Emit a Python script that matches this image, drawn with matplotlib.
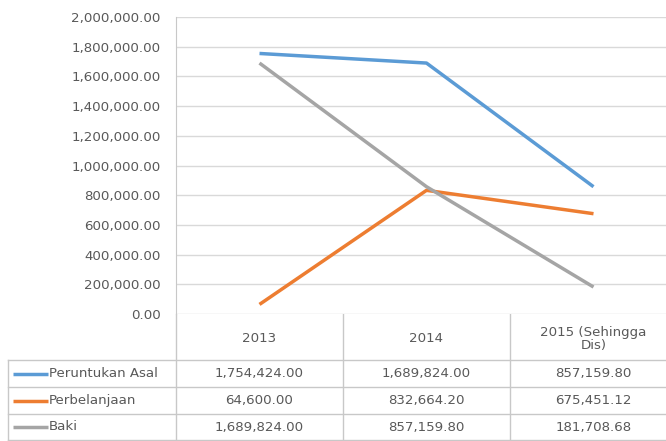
import matplotlib
matplotlib.use("Agg")
import matplotlib.pyplot as plt
from matplotlib.ticker import FuncFormatter, MultipleLocator

categories = ["2013", "2014", "2015 (Sehingga\nDis)"]
series_names = ["Peruntukan Asal", "Perbelanjaan", "Baki"]
peruntukan = [1754424.00, 1689824.00, 857159.80]
perbelanjaan = [64600.00, 832664.20, 675451.12]
baki = [1689824.00, 857159.80, 181708.68]
series_values = [peruntukan, perbelanjaan, baki]
colors = ["#5B9BD5", "#ED7D31", "#A5A5A5"]

plt.rcParams['font.family'] = ['DejaVu Sans']
W, H = 666, 441
FS = 9.6
TXT = "#595959"
GRID = "#d9d9d9"
BORDER = "#c8c8c8"

fig = plt.figure(figsize=(W / 100, H / 100), dpi=100)

# layout in pixels
ax_left, ax_right, ax_top, ax_bot = 176, 677, 17, 314
ax = fig.add_axes([ax_left / W, 1 - ax_bot / H, (ax_right - ax_left) / W, (ax_bot - ax_top) / H])
x = list(range(len(categories)))
for vals, c, name in zip(series_values, colors, series_names):
    ax.plot(x, vals, color=c, lw=2.5, solid_capstyle='butt', label=name, zorder=3)
ax.set_xlim(-0.5, len(categories) - 0.5)
ax.set_ylim(0, 2000000)
ax.yaxis.set_major_locator(MultipleLocator(200000))
ax.yaxis.set_major_formatter(FuncFormatter(lambda v, p: f"{v:,.2f}"))
ax.grid(axis='y', color=GRID, lw=1)
ax.set_axisbelow(True)
for s in ['top', 'right', 'bottom']:
    ax.spines[s].set_visible(False)
ax.spines['left'].set_color(BORDER)
ax.tick_params(axis='y', length=0, pad=11, labelsize=FS, labelcolor=TXT)
ax.tick_params(axis='x', bottom=False, labelbottom=False)

# table drawn in pixel coordinates
tab = fig.add_axes([0, 0, 1, 1], zorder=-1)
tab.set_xlim(0, W)
tab.set_ylim(H, 0)
tab.axis('off')
col_edges = [8, 176, 343, 510, 677]
header_top, header_bot = 314, 360
row_edges = [360, 387, 414, 440]

# vertical lines
tab.plot([col_edges[1]] * 2, [header_top, row_edges[-1]], color=BORDER, lw=1)
for xe in col_edges[2:4]:
    tab.plot([xe] * 2, [header_top, row_edges[-1]], color=BORDER, lw=1)
tab.plot([col_edges[0]] * 2, [row_edges[0], row_edges[-1]], color=BORDER, lw=1)
# horizontal lines
tab.plot([col_edges[0], W], [row_edges[0]] * 2, color=BORDER, lw=1)
for ye in row_edges[1:]:
    tab.plot([col_edges[0], W], [ye] * 2, color=BORDER, lw=1)

# header
for i, cat in enumerate(categories):
    cx = (col_edges[i + 1] + col_edges[i + 2]) / 2
    tab.text(cx, (header_top + header_bot) / 2 + 2, cat, ha='center', va='center',
             fontsize=FS, color=TXT, linespacing=1.05)

# rows
for r, (name, vals, c) in enumerate(zip(series_names, series_values, colors)):
    cy = (row_edges[r] + row_edges[r + 1]) / 2
    tab.plot([13, 48], [cy, cy], color=c, lw=2.5, solid_capstyle='butt')
    tab.text(49, cy, name, ha='left', va='center', fontsize=FS, color=TXT)
    for i, v in enumerate(vals):
        cx = (col_edges[i + 1] + col_edges[i + 2]) / 2
        tab.text(cx, cy, f"{v:,.2f}", ha='center', va='center', fontsize=FS, color=TXT)

fig.savefig("out.png", dpi=100)
